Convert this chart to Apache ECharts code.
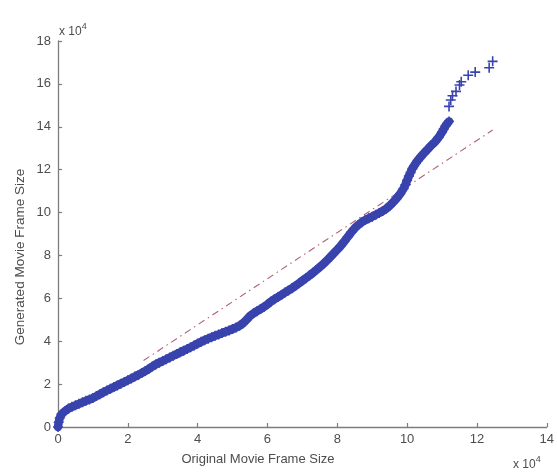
<!DOCTYPE html>
<html>
<head>
<meta charset="utf-8">
<script src="https://cdn.jsdelivr.net/npm/echarts@6/dist/echarts.min.js"></script>
<style>
  html, body { margin: 0; padding: 0; background: #ffffff; }
  #chart { width: 557px; height: 475px; }
</style>
</head>
<body>
<div id="chart"></div>
<script>
// Quantile-quantile pairs: original vs generated movie frame sizes (bytes)
const originalSize = [
  0, 200, 500, 1000, 2000, 3000, 4000, 5000, 6000, 7000, 8000, 9000,
  10000, 11000, 12000, 13000, 14000, 15000, 16000, 17000, 18000, 19000,
  20000, 21000, 22000, 23000, 24000, 25000, 26000, 27000, 28000, 29000,
  30000, 31000, 32000, 33000, 34000, 35000, 36000, 37000, 38000, 39000,
  40000, 41000, 42000, 43000, 44000, 45000, 46000, 47000, 48000, 49000,
  50000, 51000, 52000, 53000, 54000, 55000, 56000, 57000, 58000, 59000,
  60000, 61000, 62000, 63000, 64000, 65000, 66000, 67000, 68000, 69000,
  70000, 71000, 72000, 73000, 74000, 75000, 76000, 77000, 78000, 79000,
  80000, 81000, 82000, 83000, 84000, 85000, 86000, 87000, 88000, 89000,
  90000, 91000, 92000, 93000, 94000, 95000, 96000, 97000, 98000, 99000,
  99500, 100000, 100500, 101000, 101500, 102000, 102500, 103000, 103500,
  104000, 105000, 106000, 107000, 108000, 109000, 110000, 110500, 111000,
  112000, 112000, 112500, 113000, 114000, 115000, 115500, 117500, 119500,
  123500, 124500
];
const generatedSize = [
  0, 2200, 4200, 6000, 7400, 8600, 9400, 10100, 10800, 11500, 12200, 12800,
  13500, 14400, 15300, 16200, 17000, 17800, 18600, 19400, 20200, 21000,
  21800, 22600, 23500, 24300, 25200, 26100, 27100, 28200, 29200, 30000,
  30800, 31600, 32400, 33200, 34000, 34800, 35600, 36400, 37200, 38000,
  38900, 39700, 40500, 41200, 41900, 42500, 43100, 43800, 44400, 45000,
  45700, 46400, 47200, 48400, 50000, 51800, 53000, 54000, 55000, 56000,
  57200, 58500, 59600, 60600, 61600, 62700, 63700, 64700, 65800, 67000,
  68200, 69400, 70600, 71900, 73200, 74600, 76000, 77600, 79300, 81000,
  82700, 84500, 86500, 88700, 90800, 92700, 94200, 95500, 96500, 97300,
  98100, 99000, 99800, 100700, 101800, 103200, 104800, 106600, 108700, 111200,
  113000, 115000, 117000, 118700, 120500, 121800, 123000, 124200, 125200,
  126200, 128000, 129700, 131500, 133000, 135000, 137500, 139000, 140500,
  142500, 149500, 152500, 154500, 156500, 159500, 161000, 164000, 165500,
  167500, 170500
];

// Reference line through the quartile fit, drawn dash-dot
const refLineX = [24500, 124500];
const refLineY = [31000, 138500];

// Axis ranges and tick spacing (bytes)
const xMax = 140000;
const yMax = 180000;
const tickStep = 20000;

const qqPoints = originalSize.map((v, i) => [v, generatedSize[i]]);
const refPoints = refLineX.map((v, i) => [v, refLineY[i]]);

// The bulk of the quantiles form one continuous band; the sparse upper tail
// starts at the first large jump in generated size.
let bandEnd = qqPoints.length;
for (let i = 1; i < generatedSize.length; i++) {
  if (generatedSize[i] - generatedSize[i - 1] > 5000) { bandEnd = i; break; }
}
const bandPoints = qqPoints.slice(0, bandEnd);

const FONT = '"Liberation Sans", Arial, sans-serif';
const AXIS_COLOR = '#7d7d7d';
const TEXT_COLOR = '#4d4d4d';
const MARK_COLOR = '#3843ad';
const PLUS = 'path://M4.2,0H5.8V4.2H10V5.8H5.8V10H4.2V5.8H0V4.2H4.2Z';

const chart = echarts.init(document.getElementById('chart'), null, { renderer: 'canvas' });

const axisCommon = {
  type: 'value',
  min: 0,
  interval: tickStep,
  splitLine: { show: false },
  axisLine: { show: true, onZero: false, lineStyle: { color: AXIS_COLOR, width: 1.3 } },
  axisTick: { show: true, inside: true, length: 4, lineStyle: { color: AXIS_COLOR, width: 1.2 } },
  axisLabel: {
    color: TEXT_COLOR, fontFamily: FONT, fontSize: 13,
    formatter: v => String(v / 10000)
  }
};

chart.setOption({
  backgroundColor: '#ffffff',
  animation: false,
  grid: { left: 58, right: 9, top: 41, bottom: 48, containLabel: false },
  xAxis: Object.assign({}, axisCommon, {
    max: xMax,
    axisLabel: Object.assign({}, axisCommon.axisLabel, { margin: 6 })
  }),
  yAxis: Object.assign({}, axisCommon, {
    max: yMax,
    axisLabel: Object.assign({}, axisCommon.axisLabel, { margin: 7 })
  }),
  series: [
    {
      type: 'line',
      data: refPoints,
      symbol: 'none',
      z: 1,
      lineStyle: { color: '#b0607e', width: 1.1, type: [7, 4, 1.5, 4] }
    },
    {
      // dense run of overlapping markers
      type: 'line',
      data: bandPoints,
      symbol: 'none',
      z: 2,
      lineStyle: { color: MARK_COLOR, width: 8.5, cap: 'round', join: 'round' }
    },
    {
      type: 'scatter',
      data: qqPoints,
      symbol: PLUS,
      symbolSize: 10,
      z: 3,
      itemStyle: { color: MARK_COLOR, opacity: 1 }
    }
  ],
  graphic: [
    {
      type: 'text', left: 59, top: 22,
      style: {
        text: '{b|x 10}{s|4}', fill: TEXT_COLOR, font: '12px ' + FONT,
        rich: {
          b: { fontSize: 12, fontFamily: FONT, fill: TEXT_COLOR, verticalAlign: 'bottom', lineHeight: 16 },
          s: { fontSize: 9, fontFamily: FONT, fill: TEXT_COLOR, verticalAlign: 'top', lineHeight: 10 }
        }
      }
    },
    {
      type: 'text', left: 513, top: 455,
      style: {
        text: '{b|x 10}{s|4}', fill: TEXT_COLOR, font: '12px ' + FONT,
        rich: {
          b: { fontSize: 12, fontFamily: FONT, fill: TEXT_COLOR, verticalAlign: 'bottom', lineHeight: 16 },
          s: { fontSize: 9, fontFamily: FONT, fill: TEXT_COLOR, verticalAlign: 'top', lineHeight: 10 }
        }
      }
    },
    {
      type: 'text',
      x: 258, y: 459,
      style: {
        text: 'Original Movie Frame Size', fill: TEXT_COLOR,
        font: '13px ' + FONT, textAlign: 'center', textVerticalAlign: 'middle'
      }
    },
    {
      type: 'text',
      x: 20, y: 257, rotation: Math.PI / 2,
      style: {
        text: 'Generated Movie Frame Size', fill: TEXT_COLOR,
        font: '13.5px ' + FONT, textAlign: 'center', textVerticalAlign: 'middle'
      }
    }
  ]
});
</script>
</body>
</html>
